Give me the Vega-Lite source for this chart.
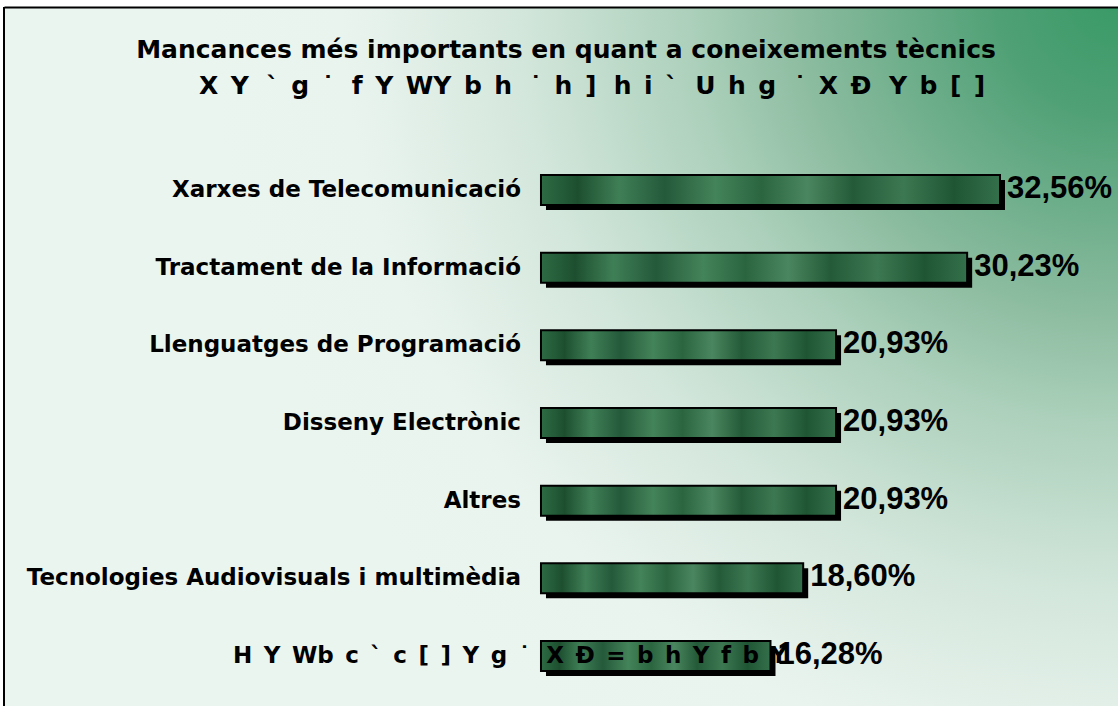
{
  "$schema": "https://vega.github.io/schema/vega-lite/v6.json",
  "width": 1114,
  "height": 699,
  "autosize": {"type": "none"},
  "padding": {"left": 4, "top": 7, "right": 0, "bottom": 0},
  "background": "white",
  "config": {
    "locale": {"number": {"decimal": ",", "thousands": ".", "grouping": [3], "currency": ["", " €"]}},
    "view": {
      "stroke": null,
      "fill": {
        "gradient": "radial",
        "x1": 1, "y1": 0.175, "r1": 0,
        "x2": 1, "y2": 0.175, "r2": 0.82,
        "stops": [
          {"offset": 0, "color": "#389a66"},
          {"offset": 0.13, "color": "#4fa075"},
          {"offset": 0.35, "color": "#8cbca0"},
          {"offset": 0.47, "color": "#acd0bb"},
          {"offset": 0.66, "color": "#d4e7dc"},
          {"offset": 0.85, "color": "#eaf4ef"},
          {"offset": 1, "color": "#ebf5f0"}
        ]
      }
    }
  },
  "title": {
    "text": "Mancances més importants en quant a coneixements tècnics",
    "subtitle": "\u200b\u00a0\u00a0\u00a0\u00a0\u00a0\u00a0X\u2002Y\u2002\u2009`\u2002g\u2002˙\u2002\u2009f\u2002Y\u2002WY\u2002b\u2002h\u2002\u2009˙\u2002h\u2002]\u2002\u2009h\u2002i\u2002`\u2002\u2009U\u2002h\u2002g\u2002\u2009˙\u2002X\u2002Ð\u2002\u2009Y\u2002b\u2002[\u2002]",
    "anchor": "middle",
    "frame": "group",
    "orient": "top",
    "offset": -93,
    "dx": 5,
    "font": "DejaVu Sans",
    "fontSize": 25,
    "fontWeight": "bold",
    "color": "black",
    "subtitleFont": "DejaVu Sans",
    "subtitleFontSize": 25,
    "subtitleFontWeight": "bold",
    "subtitleColor": "black",
    "subtitlePadding": 11
  },
  "data": {
    "values": [
      {"i": 1, "cat": "Xarxes de Telecomunicació", "v": 0.3256},
      {"i": 2, "cat": "Tractament de la Informació", "v": 0.3023},
      {"i": 3, "cat": "Llenguatges de Programació", "v": 0.2093},
      {"i": 4, "cat": "Disseny Electrònic", "v": 0.2093},
      {"i": 5, "cat": "Altres", "v": 0.2093},
      {"i": 6, "cat": "Tecnologies Audiovisuals i multimèdia", "v": 0.1860},
      {"i": 7, "cat": "H\u2002Y\u2002Wb\u2002c\u2002`\u2002c\u2002[\u2002]\u2002Y\u2002g\u2002˙\u2002\u2009X\u2002Ð\u2002=\u2002b\u2002h\u2002Y\u2002f\u2002b\u2002Y", "v": 0.1628}
    ]
  },
  "layer": [
    {
      "data": {"values": [{}]},
      "mark": {"type": "rule", "color": "black", "strokeWidth": 2},
      "encoding": {
        "x": {"datum": -0.3809, "type": "quantitative",
          "scale": {"domain": [-0.3809, 0.4093], "nice": false, "zero": false},
          "axis": {"orient": "top", "labels": false, "ticks": false, "grid": false, "title": null, "domain": true, "domainColor": "black", "domainWidth": 2}}
      }
    },
    {
      "mark": {"type": "bar", "color": "black", "size": 30, "xOffset": 5, "x2Offset": 5, "yOffset": 5, "y2Offset": 5},
      "encoding": {
        "y": {"field": "i", "type": "ordinal", "scale": {"range": [144.2, 687.8], "paddingInner": 0, "paddingOuter": 0}, "axis": null},
        "x": {"field": "v", "type": "quantitative"},
        "x2": {"datum": 0}
      }
    },
    {
      "mark": {
        "type": "bar", "size": 30, "stroke": "black", "strokeWidth": 2,
        "fill": {
          "gradient": "linear", "x1": 0, "y1": 0, "x2": 1, "y2": 0,
          "stops": [
            {"offset": 0, "color": "#2d6b44"},
            {"offset": 0.08, "color": "#1d4f2f"},
            {"offset": 0.17, "color": "#3f7f56"},
            {"offset": 0.27, "color": "#24593a"},
            {"offset": 0.38, "color": "#44845a"},
            {"offset": 0.48, "color": "#2a6540"},
            {"offset": 0.58, "color": "#4a865f"},
            {"offset": 0.68, "color": "#245a38"},
            {"offset": 0.79, "color": "#3c7852"},
            {"offset": 0.9, "color": "#1f5533"},
            {"offset": 1, "color": "#34704b"}
          ]
        }
      },
      "encoding": {
        "y": {"field": "i", "type": "ordinal"},
        "x": {"field": "v", "type": "quantitative"},
        "x2": {"datum": 0}
      }
    },
    {
      "transform": [{"filter": "datum.i < 7"}],
      "mark": {"type": "text", "align": "right", "baseline": "middle", "dx": -20, "font": "DejaVu Sans", "fontSize": 23, "fontWeight": "bold", "color": "black"},
      "encoding": {
        "y": {"field": "i", "type": "ordinal"},
        "x": {"datum": 0, "type": "quantitative"},
        "text": {"field": "cat"}
      }
    },
    {
      "transform": [{"filter": "datum.i == 7"}],
      "mark": {"type": "text", "align": "left", "baseline": "middle", "dx": -308, "font": "DejaVu Sans", "fontSize": 23, "fontWeight": "bold", "color": "black"},
      "encoding": {
        "y": {"field": "i", "type": "ordinal"},
        "x": {"datum": 0, "type": "quantitative"},
        "text": {"field": "cat"}
      }
    },
    {
      "mark": {"type": "text", "align": "left", "baseline": "middle", "dx": 7, "dy": -1, "font": "Liberation Sans", "fontSize": 31, "fontWeight": "bold", "color": "black"},
      "encoding": {
        "y": {"field": "i", "type": "ordinal"},
        "x": {"field": "v", "type": "quantitative"},
        "text": {"field": "v", "type": "quantitative", "format": ".2%"}
      }
    }
  ]
}
